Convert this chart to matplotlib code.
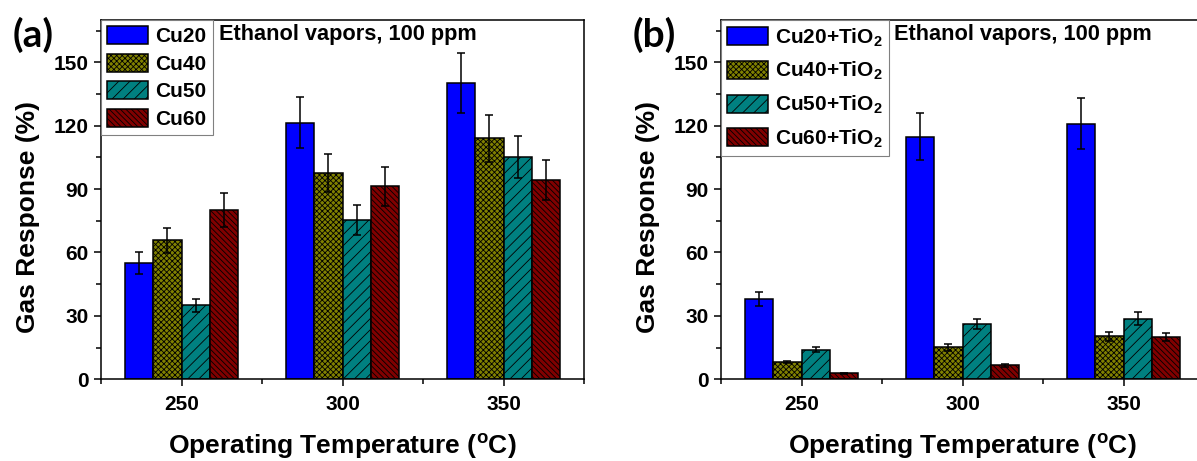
import numpy as np
import matplotlib
matplotlib.use("Agg")
import matplotlib.pyplot as plt
from matplotlib.ticker import MultipleLocator

plt.rcParams['font.family'] = ['Liberation Sans', 'DejaVu Sans']
plt.rcParams['font.weight'] = 'bold'
plt.rcParams['mathtext.fontset'] = 'custom'
plt.rcParams['mathtext.rm'] = 'Liberation Sans:bold'
plt.rcParams['mathtext.bf'] = 'Liberation Sans:bold'
plt.rcParams['mathtext.default'] = 'bf'
plt.rcParams['hatch.linewidth'] = 0.6

# datos
temps = [250, 300, 350]
labels_a = ["Cu20", "Cu40", "Cu50", "Cu60"]
labels_b = [r"Cu20+TiO$_2$", r"Cu40+TiO$_2$", r"Cu50+TiO$_2$", r"Cu60+TiO$_2$"]

# panel (a)
cu20_a = [55, 121.5, 140]
cu40_a = [65.8, 97.6, 114]
cu50_a = [35, 75.5, 105.3]
cu60_a = [80, 91.4, 94.4]
err20_a = [5, 12, 14.2]
err40_a = [6, 9, 11]
err50_a = [3, 7, 10]
err60_a = [8, 9.2, 9.5]

# panel (b)
cu20_b = [38, 114.8, 121]
cu40_b = [8.2, 15.1, 20.3]
cu50_b = [14, 26.2, 28.7]
cu60_b = [2.8, 6.6, 20]
err20_b = [3.5, 11, 12]
err40_b = [0.5, 1.7, 2]
err50_b = [1.3, 2.5, 3]
err60_b = [0.4, 0.7, 2]

colores = ["#0000FF", "#808000", "#008080", "#800000"]
tramas = ["", "xxxxxx", "///", "\\\\\\\\\\\\"]
ancho = 8.75

fig = plt.figure(figsize=(11.97, 4.61), dpi=100)
ax1 = fig.add_axes([101/1197, 81.7/461, 483/1197, 359.3/461])
ax2 = fig.add_axes([721/1197, 81.7/461, 483/1197, 359.3/461])


def panel(ax, series, errores, labels, tag, txt_x, spacing):
    x = np.array(temps, dtype=float)
    for i, (vals, errs) in enumerate(zip(series, errores)):
        ax.bar(x + (i - 1.5) * ancho, vals, width=ancho, color=colores[i],
               hatch=tramas[i], edgecolor="black", linewidth=1.1, label=labels[i],
               yerr=errs, error_kw=dict(ecolor="black", elinewidth=1.1, capsize=3, capthick=1.1))
    ax.set_xlim(225, 375)
    ax.set_ylim(0, 170)
    ax.set_xticks(temps)
    ax.xaxis.set_minor_locator(MultipleLocator(25))
    ax.yaxis.set_major_locator(MultipleLocator(30))
    ax.yaxis.set_minor_locator(MultipleLocator(15))
    ax.tick_params(which="major", direction="out", length=5, width=1.1, labelsize=15, pad=4)
    ax.tick_params(axis="x", which="major", pad=6)
    ax.tick_params(which="minor", direction="out", length=3.3, width=1.1)
    for s in ax.spines.values():
        s.set_linewidth(1.1)
    ax.set_ylabel("Gas Response (%)", fontsize=19, fontweight="bold")
    ax.yaxis.set_label_coords(-0.126, 0.452)
    ax.set_xlabel(r"Operating Temperature ($^{o}$C)", fontsize=19, fontweight="bold")
    ax.xaxis.set_label_coords(0.5, -0.147)
    leg = ax.legend(loc="upper left", bbox_to_anchor=(0, 1), borderaxespad=0, fontsize=15,
                    fancybox=False, framealpha=1, edgecolor="#808080", handlelength=1.95,
                    handleheight=0.95, handletextpad=0.35, labelspacing=spacing, borderpad=0.3)
    leg.get_frame().set_linewidth(0.8)
    ax.text(txt_x, 0.961, "Ethanol vapors, 100 ppm", transform=ax.transAxes,
            ha="left", va="center", fontsize=15.7, fontweight="bold")
    ax.text(-0.184, 1.01, tag, transform=ax.transAxes, ha="left", va="top",
            fontsize=28, fontweight="bold", family=["Lato", "DejaVu Sans"])


panel(ax1, [cu20_a, cu40_a, cu50_a, cu60_a], [err20_a, err40_a, err50_a, err60_a],
      labels_a, "(a)", 0.244, 0.35)
panel(ax2, [cu20_b, cu40_b, cu50_b, cu60_b], [err20_b, err40_b, err50_b, err60_b],
      labels_b, "(b)", 0.358, 0.55)

fig.savefig("out.png", dpi=100)
